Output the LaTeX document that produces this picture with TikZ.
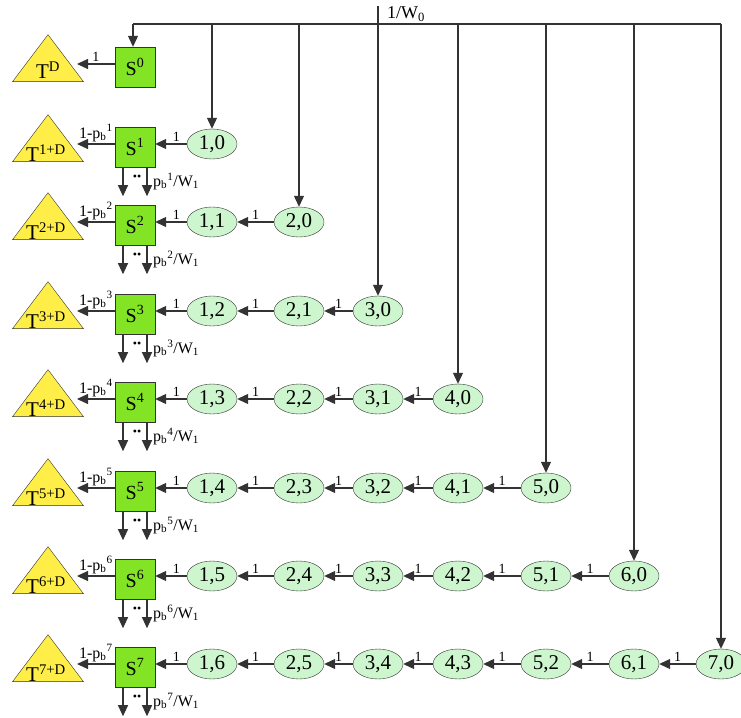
\documentclass[tikz,border=0pt]{standalone}
\usepackage{fontspec}
\setmainfont{Liberation Serif}
\usetikzlibrary{shapes.geometric,arrows.meta,positioning}

\definecolor{boxgreen}{RGB}{130,228,36}
\definecolor{stategreen}{RGB}{206,246,206}
\definecolor{tyellow}{RGB}{255,238,72}

\begin{document}
\begin{tikzpicture}[x=1pt,y=-1pt]
  % Styles
  \tikzset{
    sbox/.style={draw=black!80, fill=boxgreen, minimum size=40pt, inner sep=0pt, font=\fontsize{20}{20}\selectfont},
    st/.style={ellipse, draw=black!80, fill=stategreen, minimum width=50pt, minimum height=30pt, inner sep=0pt, font=\fontsize{21}{21}\selectfont},
    tri/.style={isosceles triangle, isosceles triangle stretches, shape border rotate=90, draw=black!80, fill=tyellow, minimum width=71pt, minimum height=47pt, inner sep=0pt},
    tlab/.style={font=\fontsize{21}{21}\selectfont, inner sep=0pt},
    arr/.style={-{Triangle[length=11pt,width=10pt]}, line width=1.1pt, draw=black!80},
    one/.style={font=\fontsize{14}{14}\selectfont, above, inner sep=1.5pt},
    lbl/.style={font=\fontsize{16}{16}\selectfont, inner sep=0pt},
  }

  \useasboundingbox (0,0) rectangle (741,717);

  % Boites S et triangles T
  \node[sbox] (s0) at (135,67) {S\textsuperscript{0}};
  \node[tri] (t0) at (48,64) {};
  \node[tlab] (tl0) at (48,70) {T\textsuperscript{D}};
  \coordinate (tin0) at (77,64);
  \draw[arr] (s0.west |- tin0) -- (tin0) node[one, midway]{1};

  \foreach \r/\y in {1/144,2/222,3/311,4/399,5/488,6/576,7/664} {
    \node[sbox] (s\r) at (135,\y+3) {S\textsuperscript{\r}};
    \node[tri] (t\r) at (48,\y) {};
    \node[tlab] (tl\r) at (46,\y+9) {T\textsuperscript{\r+D}};
    \coordinate (tin\r) at (77,\y);
    \draw[arr] (s\r.west |- tin\r) -- (tin\r)
      node[midway, above, lbl, inner sep=2pt]{1-p\textsubscript{b}\textsuperscript{\r}};
    % sorties vers le bas
    \coordinate (dl\r) at ([xshift=-12pt,yshift=-29pt]s\r.south);
    \coordinate (dr\r) at ([xshift=12pt,yshift=-29pt]s\r.south);
    \draw[arr] (s\r.south -| dl\r) -- (dl\r);
    \draw[arr] (s\r.south -| dr\r) -- (dr\r);
    \node[font=\fontsize{12}{12}\selectfont, inner sep=0pt] (dots\r) at ([xshift=2pt,yshift=-11pt]s\r.south) {\textbullet\textbullet};
    \node[lbl, anchor=west] (pb\r) at ([xshift=18pt,yshift=-14pt]s\r.south)
      {p\textsubscript{b}\textsuperscript{\r}/W\textsubscript{1}};
  }

  % Etats (i,j)
  \foreach \r/\y in {1/144,2/222,3/311,4/399,5/488,6/576,7/664}
    \foreach \i/\x in {1/212,2/299,3/378,4/458,5/546,6/634,7/721} {
      \pgfmathtruncatemacro\j{\r-\i}
      \ifnum\j<0\else
        \node[st] (e\i\j) at (\x,\y) {\i,\j};
      \fi
    }

  % Transitions (i,j) -> (i-1,j+1)
  \foreach \r in {2,...,7}
    \foreach \i in {2,...,\r} {
      \pgfmathtruncatemacro\j{\r-\i}
      \pgfmathtruncatemacro\k{\i-1}
      \pgfmathtruncatemacro\m{\r-\i+1}
      \draw[arr] (e\i\j) -- (e\k\m) node[one, midway]{1};
    }

  % Transitions (1,j) -> S
  \foreach \r in {1,...,7} {
    \pgfmathtruncatemacro\j{\r-1}
    \draw[arr] (e1\j.west) -- (e1\j.west -| s\r.east) node[one, pos=0.33]{1};
  }

  % Arrivee 1/W0
  \coordinate (src) at (378,6);
  \coordinate (bus) at (133,24);
  \draw[line width=1.1pt, draw=black!80] (src) -- (src |- bus);
  \node[lbl, anchor=west, font=\fontsize{18}{18}\selectfont] (w0) at (387,14) {1/W\textsubscript{0}};
  \draw[line width=1.1pt, draw=black!80] (bus) -- (bus -| e70.north);
  \draw[arr] (bus) -- (bus |- s0.north);
  \foreach \i in {1,...,7}
    \draw[arr] (e\i0.north |- bus) -- (e\i0.north);

\end{tikzpicture}
\end{document}
